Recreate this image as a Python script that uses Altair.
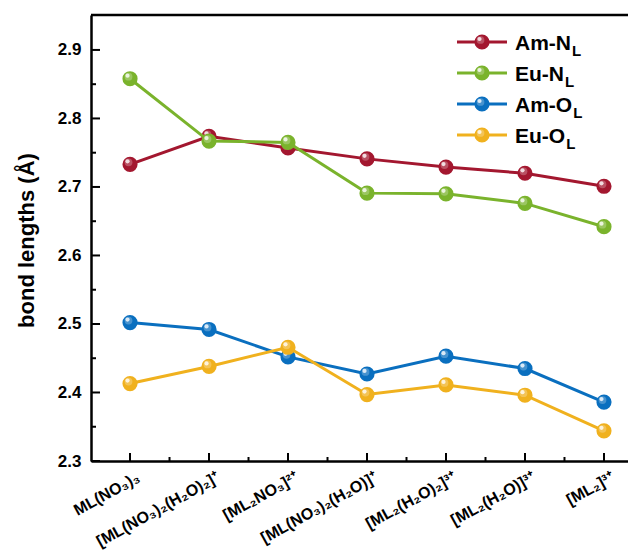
import json
import altair as alt
import pandas as pd

# ---------------- data ----------------
categories = ["ML(NO₃)₃", "[ML(NO₃)₂(H₂O)₂]⁺", "[ML₂NO₃]²⁺", "[ML(NO₃)₂(H₂O)]⁺",
              "[ML₂(H₂O)₂]³⁺", "[ML₂(H₂O)]³⁺", "[ML₂]³⁺"]
series_names = ["Am-NL", "Eu-NL", "Am-OL", "Eu-OL"]
legend_main = ["Am-N", "Eu-N", "Am-O", "Eu-O"]
legend_sub = ["L", "L", "L", "L"]
colors = ["#A3172F", "#7AB32C", "#0A6FBF", "#F0B11E"]

am_n = [2.733, 2.774, 2.757, 2.741, 2.729, 2.720, 2.701]
eu_n = [2.858, 2.767, 2.765, 2.691, 2.690, 2.676, 2.642]
am_o = [2.502, 2.492, 2.452, 2.427, 2.453, 2.435, 2.386]
eu_o = [2.413, 2.438, 2.466, 2.397, 2.411, 2.396, 2.344]
series_values = [am_n, eu_n, am_o, eu_o]

y_major = [2.3, 2.4, 2.5, 2.6, 2.7, 2.8, 2.9]
y_minor = [2.35, 2.45, 2.55, 2.65, 2.75, 2.85]
x_major = [0, 1, 2, 3, 4, 5, 6]
x_minor = [0.5, 1.5, 2.5, 3.5, 4.5, 5.5]

# ---------------- layout ----------------
W, H = 537, 446
FONT = "Liberation Sans"

label_expr = json.dumps(categories, ensure_ascii=False) + "[round(datum.value)]"

x_enc = alt.X(
    "idx:Q",
    scale=alt.Scale(domain=[-0.494, 6.304], nice=False, zero=False),
    axis=alt.Axis(
        values=x_major, labelExpr=label_expr, tickSize=0, grid=False, title=None,
        domainWidth=2.5, domainColor="black", labelAngle=-29, labelAlign="right",
        labelBaseline="middle", labelPadding=15, labelOffset=8, labelFont=FONT,
        labelFontWeight="bold", labelFontSize=16, labelColor="black",
        labelOverlap=False, labelBound=False, labelFlush=False,
    ),
)
y_enc = alt.Y(
    "value:Q",
    scale=alt.Scale(domain=[2.3, 2.951], nice=False, zero=False),
    axis=alt.Axis(
        values=y_major, format=".1f", tickSize=0, grid=False,
        title="bond lengths (Å)", titleFont=FONT, titleFontWeight="bold",
        titleFontSize=22, titleColor="black", titleX=-58, titleY=225,
        titleAngle=-90, titleAlign="center", titleBaseline="alphabetic",
        domainWidth=2.5, domainColor="black", labelPadding=10, labelFont=FONT,
        labelFontWeight="bold", labelFontSize=17, labelColor="black",
        labelBaseline="middle", labelFlush=False, labelOverlap=False,
    ),
)
color_enc = alt.Color("series:N", scale=alt.Scale(domain=series_names, range=colors), legend=None)

layers = []

# top frame line
layers.append(
    alt.Chart(pd.DataFrame({"a": [0]})).mark_rule(color="black", strokeWidth=2.5)
    .encode(x=alt.value(0), x2=alt.value(W), y=alt.value(0))
)
# inward ticks
layers.append(alt.Chart(pd.DataFrame({"idx": x_major})).mark_rule(color="black", strokeWidth=2)
              .encode(x=x_enc, y=alt.value(H), y2=alt.value(H - 8)))
layers.append(alt.Chart(pd.DataFrame({"idx": x_minor})).mark_rule(color="black", strokeWidth=2)
              .encode(x=x_enc, y=alt.value(H), y2=alt.value(H - 4)))
layers.append(alt.Chart(pd.DataFrame({"value": y_major})).mark_rule(color="black", strokeWidth=2)
              .encode(y=y_enc, x=alt.value(0), x2=alt.value(9)))
layers.append(alt.Chart(pd.DataFrame({"value": y_minor})).mark_rule(color="black", strokeWidth=2)
              .encode(y=y_enc, x=alt.value(0), x2=alt.value(5)))

# series
for name, vals in zip(series_names, series_values):
    df = pd.DataFrame({"idx": x_major, "value": vals, "series": [name] * len(vals)})
    base = alt.Chart(df)
    layers.append(base.mark_line(strokeWidth=3).encode(x=x_enc, y=y_enc, color=color_enc))
    layers.append(base.mark_circle(size=230, opacity=1).encode(x=x_enc, y=y_enc, color=color_enc))
    layers.append(base.mark_circle(size=60, color="white", opacity=0.25, xOffset=-1.5, yOffset=-2)
                  .encode(x=x_enc, y=y_enc))
    layers.append(base.mark_circle(size=18, color="white", opacity=0.8, xOffset=-2.5, yOffset=-3)
                  .encode(x=x_enc, y=y_enc))

# custom legend
ARIAL_BOLD = {"A": 722, "m": 889, "-": 333, "N": 722, "E": 667, "u": 611, "O": 778}
LEG_FS = 21
for i, (name, main, sub) in enumerate(zip(series_names, legend_main, legend_sub)):
    ypx = 27 + 31 * i
    df = pd.DataFrame({"series": [name], "main": [main], "sub": [sub]})
    base = alt.Chart(df)
    layers.append(base.mark_rule(strokeWidth=3)
                  .encode(x=alt.value(366), x2=alt.value(416), y=alt.value(ypx), color=color_enc))
    layers.append(base.mark_circle(size=230, opacity=1)
                  .encode(x=alt.value(391), y=alt.value(ypx), color=color_enc))
    layers.append(base.mark_circle(size=60, color="white", opacity=0.25, xOffset=-1.5, yOffset=-2)
                  .encode(x=alt.value(391), y=alt.value(ypx)))
    layers.append(base.mark_circle(size=18, color="white", opacity=0.8, xOffset=-2.5, yOffset=-3)
                  .encode(x=alt.value(391), y=alt.value(ypx)))
    tx = 424
    layers.append(base.mark_text(align="left", baseline="middle", font=FONT, fontWeight="bold",
                                 fontSize=LEG_FS, color="black")
                  .encode(x=alt.value(tx), y=alt.value(ypx + 2), text="main:N"))
    wpx = sum(ARIAL_BOLD.get(c, 600) for c in main) / 1000 * LEG_FS
    layers.append(base.mark_text(align="left", baseline="middle", font=FONT, fontWeight="bold",
                                 fontSize=15, color="black")
                  .encode(x=alt.value(tx + wpx + 1), y=alt.value(ypx + 9), text="sub:N"))

chart = (
    alt.layer(*layers)
    .properties(
        width=W, height=H,
        padding={"left": 83, "top": 7, "right": 0, "bottom": 90},
        autosize=alt.AutoSizeParams(type="none"),
        background="white",
    )
    .configure_view(stroke=None)
)

chart.save("out.html", embed_options={"renderer": "svg", "actions": False})
